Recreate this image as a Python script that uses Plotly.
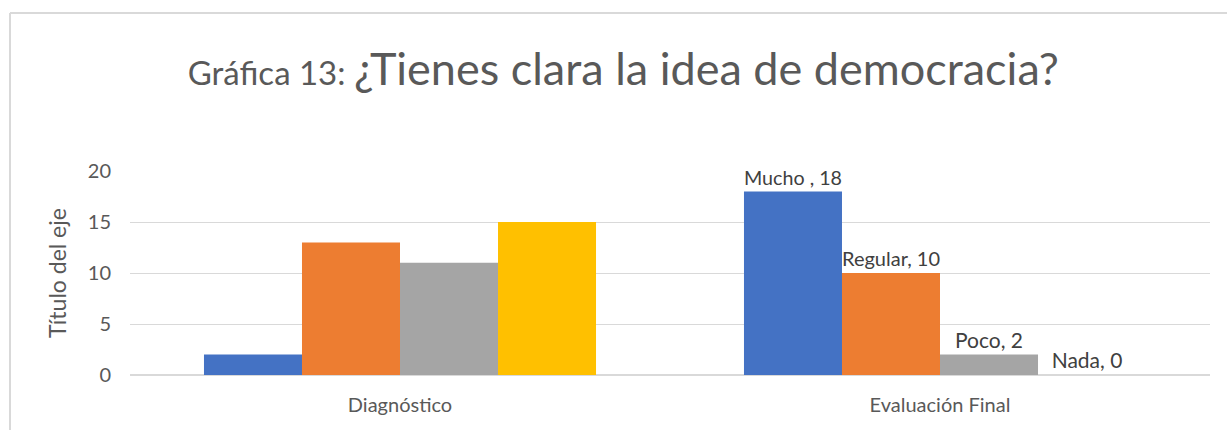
import plotly.graph_objects as go

categories = ["Diagnóstico", "Evaluación Final"]
series_names = ["Mucho", "Regular", "Poco", "Nada"]
mucho = [2, 18]
regular = [13, 10]
poco = [11, 2]
nada = [15, 0]
label_names = ["Mucho ", "Regular", "Poco", "Nada"]
colors = ["#4472C4", "#ED7D31", "#A5A5A5", "#FFC000"]

FONT = "Lato"
fig = go.Figure()
for name, lab, vals, c in zip(series_names, label_names, [mucho, regular, poco, nada], colors):
    texts = ["", f"{lab}, {vals[1]}"]
    fig.add_trace(go.Bar(
        name=name, x=categories, y=vals, marker_color=c, marker_line_width=0,
        text=texts, textposition="outside", cliponaxis=False,
        textfont=dict(family=FONT, size=21, color="#404040"),
    ))

fig.update_layout(
    width=1227, height=430,
    margin=dict(l=130, r=17, t=171, b=55),
    barmode="group", bargap=0.274, bargroupgap=0,
    plot_bgcolor="white", paper_bgcolor="white",
    showlegend=False,
    font=dict(family=FONT, color="#595959"),
    title=dict(
        text='<span style="font-size:33px">Gráfica 13: </span>¿Tienes clara la idea de democracia?',
        font=dict(family=FONT, size=45, color="#595959"),
        x=0.508, xanchor="center", y=0.84, yanchor="middle",
    ),
    uniformtext=dict(mode=False),
)
fig.update_yaxes(
    range=[0, 20], dtick=5, showgrid=True, gridcolor="#d9d9d9", gridwidth=1,
    zeroline=True, zerolinecolor="#d9d9d9", showline=False,
    tickfont=dict(family=FONT, size=20, color="#595959"), ticks="", ticklen=0,
    ticklabelstandoff=18,
    title=dict(text="Título del eje", font=dict(family=FONT, size=23, color="#595959"), standoff=14),
)
fig.update_xaxes(
    showline=False, showgrid=False, ticks="",
    tickfont=dict(family=FONT, size=20, color="#595959"),
    ticklabelstandoff=16,
)
fig.add_shape(type="line", xref="paper", yref="paper",
              x0=-120/1080, x1=1.2, y0=(375-13)/204, y1=(375-13)/204,
              line=dict(color="#d9d9d9", width=2))
fig.add_shape(type="line", xref="paper", yref="paper",
              x0=-120/1080, x1=-120/1080, y0=-0.5, y1=(375-13)/204,
              line=dict(color="#d9d9d9", width=2))
fig.write_html("out.html")
